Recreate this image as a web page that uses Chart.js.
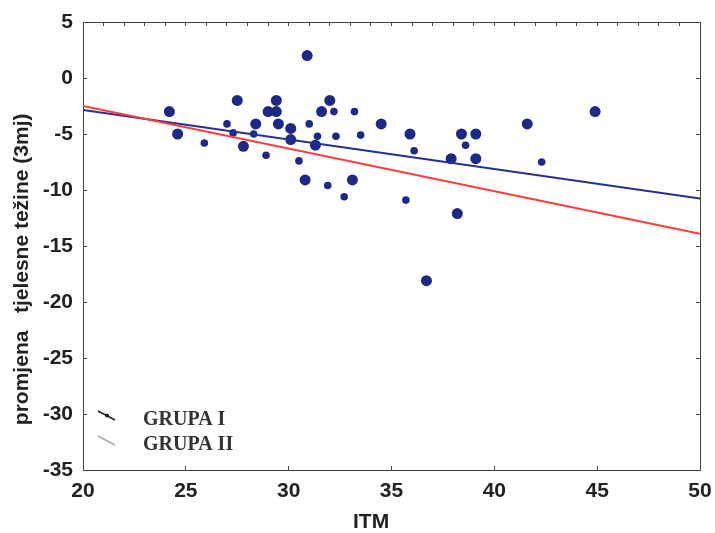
<!DOCTYPE html>
<html><head><meta charset="utf-8">
<script src="https://cdn.jsdelivr.net/npm/chart.js@4/dist/chart.umd.min.js"></script>
<style>html,body{margin:0;padding:0;background:#fff}#wrap{width:715px;height:533px}</style>
</head><body><div id="wrap"><canvas id="c" width="715" height="533"></canvas></div>
<script>
// ---- data ----
const itmFull    = [24.2, 24.6, 27.5, 27.8, 28.4, 29.0, 29.4, 29.4, 29.5, 30.1, 30.1, 30.9, 30.8, 31.3, 31.6, 32.0, 33.1, 34.5, 35.9, 36.7, 37.9, 38.2, 38.4, 39.1, 39.1, 41.6, 44.9];
const changeFull = [-3.0, -5.0, -2.0, -6.1, -4.1, -3.0, -2.0, -3.0, -4.1, -4.5, -5.5,  2.0, -9.1, -6.0, -3.0, -2.0, -9.1, -4.1, -5.0, -18.1, -7.2, -12.1, -5.0, -5.0, -7.2, -4.1, -3.0];
const itmPartial    = [25.9, 27.0, 27.3, 28.3, 28.9, 30.5, 31.0, 31.4, 31.9, 32.2, 32.3, 32.7, 33.2, 33.5, 35.7, 36.1, 38.6, 42.3];
const changePartial = [-5.8, -4.1, -4.9, -5.0, -6.9, -7.4, -4.1, -5.2, -9.6, -3.0, -5.2, -10.6, -3.0, -5.1, -10.9, -6.5, -6.0, -7.5];
const lineX       = [20, 50];
const groupILine  = [-2.85, -10.75];
const groupIILine = [-2.5, -13.9];
const legendLabels = ['GRUPA I', 'GRUPA II'];
const xTickLabels = [20, 25, 30, 35, 40, 45, 50];
const yTickLabels = [5, 0, -5, -10, -15, -20, -25, -30, -35];
const xTitle = 'ITM';
const yTitle = 'promjena   tjelesne težine (3mj)';

const toPts = (xs, ys) => xs.map((x, i) => ({x: x, y: ys[i]}));

const tickFont = {family: 'Liberation Sans', weight: 'bold', size: 21};
const frameColor = '#444';
const noPad = s => { s.paddingLeft = 0; s.paddingRight = 0; s.paddingTop = 0; s.paddingBottom = 0; };

const legendPlugin = {
  id: 'insideLegend',
  afterDraw(chart) {
    const ctx = chart.ctx;
    ctx.save();
    const rows = [
      {y: 425, color: '#222', dot: true},
      {y: 450, color: '#aaa', dot: false}
    ];
    rows.forEach((r, i) => {
      ctx.strokeStyle = r.color;
      ctx.lineWidth = 1.5;
      ctx.beginPath();
      ctx.moveTo(98, r.y - 14);
      ctx.lineTo(115, r.y - 5);
      ctx.stroke();
      if (r.dot) {
        ctx.fillStyle = r.color;
        ctx.beginPath();
        ctx.arc(107, r.y - 9.5, 2, 0, Math.PI * 2);
        ctx.fill();
      }
      ctx.fillStyle = '#333';
      ctx.font = 'bold 20px "Liberation Serif"';
      ctx.textBaseline = 'alphabetic';
      ctx.textAlign = 'left';
      ctx.fillText(legendLabels[i], 143, r.y);
    });
    ctx.restore();
  }
};

new Chart(document.getElementById('c'), {
  type: 'scatter',
  data: {
    datasets: [
      {label: 'GRUPA I', type: 'line', data: toPts(lineX, groupILine), borderColor: '#24308f', borderWidth: 2, pointRadius: 0, fill: false, order: 2},
      {label: 'GRUPA II', type: 'line', data: toPts(lineX, groupIILine), borderColor: '#ff3b3b', borderWidth: 2, pointRadius: 0, fill: false, order: 1},
      {label: 'points', data: toPts(itmFull, changeFull), backgroundColor: '#1c2a85', borderWidth: 0, pointRadius: 5.5, order: 3},
      {label: 'points2', data: toPts(itmPartial, changePartial), backgroundColor: '#1c2a85', borderWidth: 0, pointRadius: 3.8, order: 3}
    ]
  },
  options: {
    responsive: false,
    animation: false,
    devicePixelRatio: 1,
    layout: {padding: {left: 0, top: 10, right: 3, bottom: 0}},
    plugins: {legend: {display: false}, tooltip: {enabled: false}},
    scales: {
      x: {
        type: 'linear', position: 'bottom', min: 20, max: 50,
        afterFit: s => { s.height = 63; noPad(s); },
        border: {display: true, color: frameColor, width: 1},
        grid: {drawOnChartArea: false, drawTicks: true, tickLength: -4, color: frameColor},
        ticks: {stepSize: 1, autoSkip: false, maxRotation: 0, padding: 13, color: '#222', font: tickFont,
          callback: v => xTickLabels.includes(v) ? String(v) : null},
        title: {display: true, text: xTitle + '       ', color: '#222',
          font: {family: 'Liberation Sans', weight: 'bold', size: 21, lineHeight: 1}, padding: {top: 0, bottom: 0}}
      },
      xTop: {
        type: 'linear', position: 'top', min: 20, max: 50,
        afterFit: s => { s.height = 12; noPad(s); },
        border: {display: true, color: frameColor, width: 1},
        grid: {drawOnChartArea: false, drawTicks: true, tickLength: -4, color: frameColor},
        ticks: {stepSize: 1, autoSkip: false, display: false}
      },
      y: {
        type: 'linear', position: 'left', min: -35, max: 5,
        afterFit: s => { s.width = 83; noPad(s); },
        border: {display: true, color: frameColor, width: 1},
        grid: {drawOnChartArea: false, drawTicks: true, tickLength: -4, color: frameColor},
        ticks: {stepSize: 5, autoSkip: false, padding: 14, color: '#222', font: tickFont,
          callback: v => yTickLabels.includes(v) ? String(v) : null},
        title: {display: true, text: yTitle + '        ', color: '#222',
          font: {family: 'Liberation Sans', weight: 'bold', size: 21}, padding: {top: 10, bottom: 0}}
      },
      yRight: {
        type: 'linear', position: 'right', min: -35, max: 5,
        afterFit: s => { s.width = 12; noPad(s); },
        border: {display: true, color: frameColor, width: 1},
        grid: {drawOnChartArea: false, drawTicks: true, tickLength: -4, color: frameColor},
        ticks: {stepSize: 5, display: false}
      }
    }
  },
  plugins: [legendPlugin]
});
</script>
</body></html>
